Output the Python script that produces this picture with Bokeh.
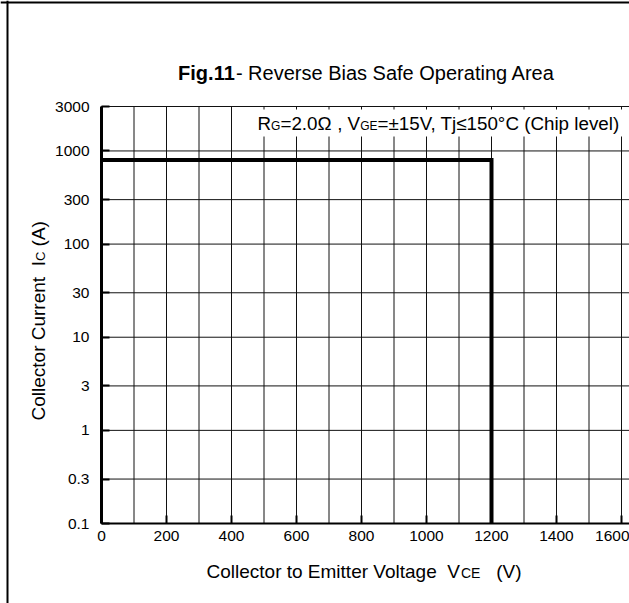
import math
from bokeh.plotting import figure
from bokeh.models import FixedTicker, NumeralTickFormatter, Label, BoxAnnotation, Range1d, Span
from bokeh.embed import file_html
from bokeh.resources import INLINE

# ---- data ----
vce = [0, 1200, 1200]          # V
ic = [800, 800, 0.1]           # A
x_grid_ticks = list(range(0, 1700, 100))
x_label_ticks = list(range(0, 1700, 200))
y_label_ticks = [0.1, 0.3, 1, 3, 10, 30, 100, 300, 1000, 3000]
y_grid_ticks = [0.3, 1, 3, 10, 30, 100, 300, 1000, 3000]
X_MIN, Y_MIN, Y_MAX = 0, 0.1, 3000

FONT = "Liberation Sans"

# page geometry: the canvas covers the whole window
CAN_X, CAN_Y, W, H = 0, 0, 629, 603
PX_LEFT, PX_1600 = 101, 621          # page x of 0 V and 1600 V
PY_TOP, PY_BOT = 106, 523            # page y of 3000 A and 0.1 A
BORDER_X, BORDER_Y = 7, 2            # page position of the outer frame lines
kx = (PX_1600 - PX_LEFT) / 1600.0
ky = (PY_BOT - PY_TOP) / (math.log10(Y_MAX) - math.log10(Y_MIN))


def xdata(px):
    return (px - PX_LEFT) / kx


def ydata(py):
    return 10 ** (math.log10(Y_MIN) + (PY_BOT - py) / ky)


x_start, x_end = xdata(CAN_X), xdata(CAN_X + W)
y_start, y_end = ydata(CAN_Y + H), ydata(CAN_Y)

p = figure(width=W, height=H, output_backend="svg", toolbar_location=None,
           y_axis_type="log", x_range=Range1d(x_start, x_end), y_range=Range1d(y_start, y_end),
           min_border=0)
p.background_fill_color = "white"
p.border_fill_color = "white"
p.outline_line_color = None
p.xgrid.visible = False
p.ygrid.visible = False

# grid lines built from the tick arrays
p.segment(x0=x_grid_ticks, y0=[Y_MIN] * len(x_grid_ticks), x1=x_grid_ticks, y1=[Y_MAX] * len(x_grid_ticks),
          line_color="#111111", line_width=1)
p.segment(x0=[X_MIN] * len(y_grid_ticks), y0=y_grid_ticks, x1=[x_end] * len(y_grid_ticks), y1=y_grid_ticks,
          line_color="#111111", line_width=1)

# axes fixed at the plot-area edges
p.xaxis.fixed_location = Y_MIN
p.yaxis.fixed_location = X_MIN
p.xaxis.bounds = (X_MIN, x_end)
p.yaxis.bounds = (Y_MIN, Y_MAX)
p.xaxis.ticker = FixedTicker(ticks=x_label_ticks)
p.yaxis.ticker = FixedTicker(ticks=y_label_ticks)
p.yaxis.formatter = NumeralTickFormatter(format="0.[0]")
for ax in (p.xaxis, p.yaxis):
    ax.major_tick_in = 8
    ax.major_tick_out = 0
    ax.major_tick_line_width = 2
    ax.major_tick_line_color = "black"
    ax.minor_tick_line_color = None
    ax.axis_line_color = "black"
    ax.major_label_text_font = FONT
    ax.major_label_text_font_size = "15.5px"
    ax.major_label_text_color = "black"
p.xaxis.axis_line_width = 2
p.yaxis.axis_line_width = 3
p.xaxis.major_label_standoff = 7
p.yaxis.major_label_standoff = 12

# the safe operating area boundary
p.line(vce, ic, line_color="black", line_width=4, line_join="miter")

# outer frame (left and top edges)
p.add_layout(Span(location=xdata(BORDER_X), dimension="height", line_color="black", line_width=2))
p.add_layout(Span(location=ydata(BORDER_Y), dimension="width", line_color="black", line_width=2))

# ---- text helpers (Arial / Liberation Sans advance widths, 1/1000 em) ----
AW = {" ": 278, "(": 333, ")": 333, ",": 278, "-": 333, ".": 278, "=": 584, "±": 584, "°": 400,
      "≤": 549, "Ω": 768, "A": 667, "B": 667, "C": 722, "E": 667, "G": 778, "I": 278, "O": 778,
      "R": 722, "S": 667, "T": 611, "V": 667, "a": 556, "c": 500, "e": 556, "f": 278, "g": 556,
      "h": 556, "i": 222, "j": 222, "l": 222, "m": 833, "n": 556, "o": 556, "p": 556, "r": 333,
      "s": 500, "t": 278, "u": 556, "v": 500, "F": 611}
for d in "0123456789":
    AW[d] = 556
AWB = dict(AW, i=278, g=611)
NB = "\u00a0"
BASE_K = 0.39   # measured offset between label anchor and the drawn baseline (fraction of size)


def width(s, size, bold=False):
    tab = AWB if bold else AW
    return sum(tab.get(c, 278 if c == NB else 556) for c in s) * size / 1000.0


def keep_spaces(s):
    # SVG collapses leading/trailing/double spaces; keep them as no-break spaces
    s = s.replace("  ", NB + NB)
    if s.startswith(" "):
        s = NB + s[1:]
    if s.endswith(" "):
        s = s[:-1] + NB
    return s


def label(text, px, py, size, style="normal", angle=0.0):
    p.add_layout(Label(text=keep_spaces(text), x=px - CAN_X, y=CAN_Y + H - py,
                       x_units="screen", y_units="screen", angle=angle,
                       text_font=FONT, text_font_size=f"{size}px", text_font_style=style,
                       text_align="left", text_baseline="alphabetic", text_color="black"))


def run(pieces, px, py, vertical=False):
    """pieces: list of (text, size, style) laid out one after another on a common baseline."""
    pos = px if not vertical else py
    for text, size, style in pieces:
        if vertical:
            label(text, px - BASE_K * size, pos, size, style, angle=math.pi / 2)
            pos -= width(text, size, style == "bold")
        else:
            label(text, pos, py - BASE_K * size, size, style)
            pos += width(text, size, style == "bold")


# title
title_pieces = [("Fig.11", 20, "bold"), ("- Reverse Bias Safe Operating Area", 20, "normal")]
tw = sum(width(t, s, st == "bold") for t, s, st in title_pieces)
run(title_pieces, 366 - tw / 2, 80)

# condition box
p.add_layout(BoxAnnotation(left=252 - CAN_X, right=627 - CAN_X,
                           top=CAN_Y + H - 109, bottom=CAN_Y + H - 136,
                           left_units="screen", right_units="screen",
                           top_units="screen", bottom_units="screen",
                           fill_color="white", fill_alpha=1, line_color=None))
M, S = 18.8, 12
run([("R", M, "normal"), ("G", S, "normal"), ("=2.0", M, "normal"), ("Ω", M, "normal"),
     (" , V", M, "normal"), ("GE", S, "normal"), ("=±15V, Tj≤150°C (Chip level)", M, "normal")],
    257, 130)

# x axis title
run([("Collector to Emitter Voltage  V", 19, "normal"), ("CE", 14, "normal"), ("   (V)", 19, "normal")],
    206, 578)

# y axis title (rotated)
run([("Collector Current  I", 19, "normal"), ("C", 13, "normal"), (" (A)", 19, "normal")],
    45, 420, vertical=True)

open("out.html", "w").write(file_html(p, INLINE))
